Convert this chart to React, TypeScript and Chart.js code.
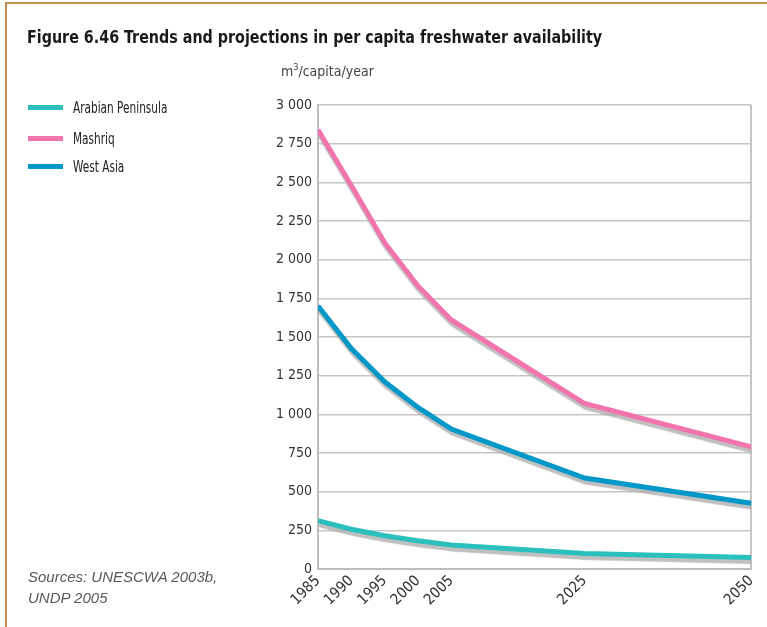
import React, { useEffect, useRef } from "react";
import { Chart, registerables } from "chart.js";

Chart.register(...registerables);

const years = [1985, 1990, 1995, 2000, 2005, 2025, 2050];
const seriesNames = ["Arabian Peninsula", "Mashriq", "West Asia"];
const seriesColors = ["#2bbfbe", "#f274ad", "#0097c9"];
const arabianPeninsula = [312, 257, 215, 183, 155, 100, 75];
const mashriq = [2840, 2480, 2110, 1830, 1610, 1070, 790];
const westAsia = [1700, 1425, 1210, 1045, 905, 588, 425];
const yTicks = [0, 250, 500, 750, 1000, 1250, 1500, 1750, 2000, 2250, 2500, 2750, 3000];

const NARROW = '"Liberation Sans Narrow", "DejaVu Sans Condensed", sans-serif';

const fmt = (v: number) => String(v).replace(/\B(?=(\d{3})+(?!\d))/g, " ");

const shadowPlugin = {
  id: "lineShadow",
  beforeDatasetDraw(chart: any) {
    const ctx = chart.ctx;
    ctx.save();
    ctx.shadowColor = "rgba(170,170,170,0.75)";
    ctx.shadowOffsetX = 1;
    ctx.shadowOffsetY = 4;
    ctx.shadowBlur = 1;
  },
  afterDatasetDraw(chart: any) {
    chart.ctx.restore();
  },
};

function LineChart() {
  const ref = useRef<HTMLCanvasElement | null>(null);
  useEffect(() => {
    if (!ref.current) return;
    const allSeries = [arabianPeninsula, mashriq, westAsia];
    const chart = new Chart(ref.current, {
      type: "line",
      data: {
        datasets: allSeries.map((s, i) => ({
          label: seriesNames[i],
          data: years.map((y, j) => ({ x: y, y: s[j] })),
          borderColor: seriesColors[i],
          backgroundColor: seriesColors[i],
          borderWidth: 5,
          pointRadius: 0,
          tension: 0,
          fill: false,
        })),
      },
      plugins: [shadowPlugin],
      options: {
        animation: false,
        responsive: false,
        devicePixelRatio: 1,
        layout: { padding: { top: 105, right: 14, left: 0, bottom: 0 } },
        plugins: { legend: { display: false }, tooltip: { enabled: false } },
        scales: {
          x: {
            type: "linear",
            min: 1985,
            max: 2050,
            afterBuildTicks: (scale: any) => {
              scale.ticks = years.map((v) => ({ value: v }));
            },
            afterFit: (scale: any) => {
              scale.height = 58;
            },
            ticks: {
              autoSkip: false,
              maxRotation: 45,
              minRotation: 45,
              padding: 3,
              color: "#333",
              font: { family: NARROW, size: 15 },
              callback: (v: any) => String(v),
            },
            grid: {
              drawTicks: false,
              lineWidth: 2,
              color: (c: any) => (c.tick && c.tick.value === 2050 ? "#c6c6c6" : "rgba(0,0,0,0)"),
            },
            border: { display: true, color: "#bdbdbd", width: 2 },
          },
          y: {
            min: 0,
            max: 3000,
            afterBuildTicks: (scale: any) => {
              scale.ticks = yTicks.map((v) => ({ value: v }));
            },
            afterFit: (scale: any) => {
              scale.width = 318;
            },
            ticks: {
              padding: 6,
              color: "#333",
              font: { family: NARROW, size: 14 },
              callback: (v: any) => fmt(Number(v)),
            },
            grid: { drawTicks: false, color: "#c6c6c6", lineWidth: 1.5 },
            border: { display: true, color: "#bdbdbd", width: 2 },
          },
        },
      },
    });
    return () => chart.destroy();
  }, []);
  return <canvas ref={ref} width={767} height={627} style={{ position: "absolute", left: 0, top: 0, width: 767, height: 627 }} />;
}

export default function App() {
  return (
    <div style={{ position: "absolute", left: 0, top: 0, width: 767, height: 627, background: "#fff", overflow: "hidden" }}>
      <div style={{ position: "absolute", left: 5, top: 2, right: 0, bottom: 0, borderTop: "2px solid #c48c4e", borderLeft: "2px solid #c48c4e" }} />
      <LineChart />
      <div style={{ position: "absolute", left: 27, top: 26, fontFamily: NARROW, fontWeight: "bold", fontSize: 18, color: "#1a1a1a", whiteSpace: "nowrap", transform: "scaleX(0.883)", transformOrigin: "left center" }}>
        Figure 6.46 Trends and projections in per capita freshwater availability
      </div>
      <div style={{ position: "absolute", left: 281, top: 62, fontFamily: NARROW, fontSize: 14, color: "#444", whiteSpace: "nowrap" }}>
        m<sup style={{ fontSize: 9 }}>3</sup>/capita/year
      </div>
      {seriesNames.map((n, i) => (
        <div key={n} style={{ position: "absolute", left: 28, top: [98, 129, 157][i], height: 18, display: "flex", alignItems: "center", whiteSpace: "nowrap" }}>
          <div style={{ width: 35, height: 5, background: seriesColors[i], marginRight: 10 }} />
          <span style={{ fontFamily: NARROW, fontSize: 16.5, color: "#222", display: "inline-block", transform: "scaleX(0.71)", transformOrigin: "left center" }}>{n}</span>
        </div>
      ))}
      <div style={{ position: "absolute", left: 28, top: 566, fontFamily: '"Liberation Sans", sans-serif', fontStyle: "italic", fontSize: 15, lineHeight: "21px", color: "#5a5a5a" }}>
        Sources: UNESCWA 2003b,
        <br />
        UNDP 2005
      </div>
    </div>
  );
}
